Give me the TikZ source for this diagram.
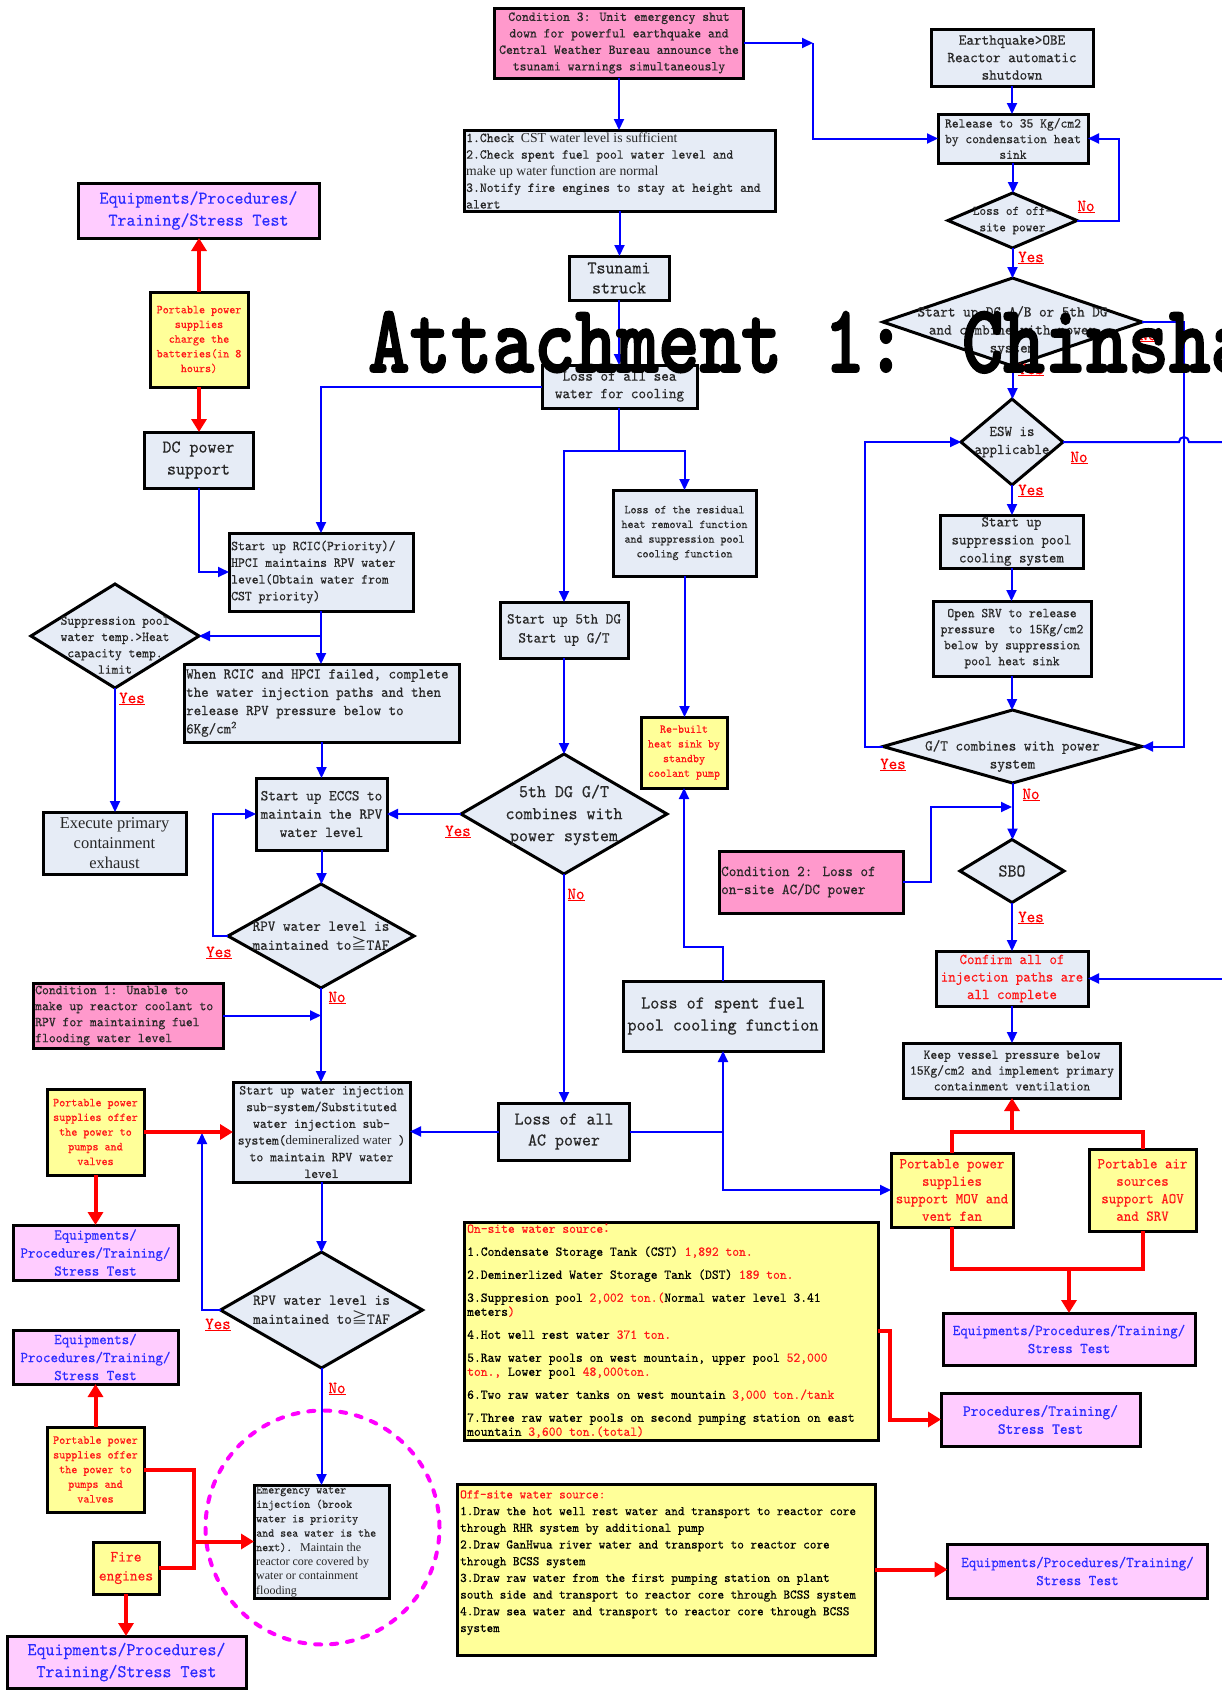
\documentclass[tikz,border=0pt]{standalone}
\usepackage{fontspec}
\setmainfont{lmmono10-regular}[Extension=.otf,FakeStretch=0.952,FakeBold=0.35]
\newfontfamily\prop{Liberation Serif}
\newfontfamily\cjk{Noto Sans CJK SC}
\newfontfamily\titlefont{lmmonolt10-bold}[Extension=.otf,FakeBold=2]
\usetikzlibrary{arrows.meta,shapes.geometric}

\definecolor{boxfill}{RGB}{230,236,246}
\definecolor{pinkfill}{RGB}{255,153,204}
\definecolor{yelfill}{RGB}{255,255,153}
\definecolor{lavfill}{RGB}{255,204,255}
\definecolor{flowblue}{RGB}{0,0,255}
\definecolor{flowred}{RGB}{255,0,0}
\definecolor{txtgray}{RGB}{40,40,40}
\definecolor{lblblue}{RGB}{45,45,255}
\definecolor{txtred}{RGB}{255,25,25}
\definecolor{ringmag}{RGB}{255,0,255}

\newcommand\fsz[2]{\fontsize{#1}{#2}\selectfont}

\begin{document}
\begin{tikzpicture}[x=1pt,y=-1pt,
  frame/.style={draw=black,line width=3pt,inner sep=0pt,outer sep=0pt},
  gbox/.style={frame,rectangle,fill=boxfill},
  pbox/.style={frame,rectangle,fill=pinkfill},
  ybox/.style={frame,rectangle,fill=yelfill},
  lbox/.style={frame,rectangle,fill=lavfill},
  gdia/.style={frame,diamond,fill=boxfill},
  txt/.style={inner sep=0pt,align=center,text=txtgray},
  txtl/.style={inner sep=0pt,align=left,text=txtgray},
  rtxt/.style={txt,text=txtred},
  btxt/.style={txt,text=lblblue},
  fl/.style={draw=flowblue,line width=2pt},
  fla/.style={fl,-{Triangle[length=11pt,width=10pt]}},
  rl/.style={draw=flowred,line width=4pt},
  rla/.style={rl,-{Triangle[length=13pt,width=15pt]}},
  yn/.style={text=flowred,inner sep=0pt,font=\fsz{17}{20}}]

\useasboundingbox (0,0) rectangle (1222,1690);
\clip (0,0) rectangle (1222,1690);
\fill[white] (0,0) rectangle (1222,1690);

% ---------------- centre column
\node[pbox,minimum width=249pt,minimum height=70pt] (cond3) at (619,43) {};
\node[txt,font=\fsz{13.7}{16.5}] (cond3-t) at (cond3) {Condition 3: Unit emergency shut\\down for powerful earthquake and\\Central Weather Bureau announce the\\tsunami warnings simultaneously};

\node[gbox,minimum width=311pt,minimum height=81pt] (check) at (619.5,170.5) {};
\node[txtl,anchor=west,font=\fsz{13.7}{16.6}] (check-t) at ([xshift=2pt]check.west) {1.Check {\prop CST water level is sufficient}\\2.Check spent fuel pool water level and\\{\prop make up water function are normal}\\3.Notify fire engines to stay at height and\\alert};

\node[gbox,minimum width=100pt,minimum height=44pt] (tsunami) at (619,278) {};
\node[txt,font=\fsz{18}{20}] (tsunami-t) at (tsunami) {Tsunami\\struck};

\node[gbox,minimum width=155pt,minimum height=43pt] (losssea) at (619.5,386.5) {};
\node[txt,font=\fsz{15.2}{17.5}] (losssea-t) at (losssea) {Loss of all sea\\water for cooling};

\node[gbox,minimum width=128pt,minimum height=56pt] (dg5) at (564,630) {};
\node[txt,font=\fsz{15.2}{19}] (dg5-t) at (dg5) {Start up 5th DG\\Start up G/T};

\node[gbox,minimum width=143pt,minimum height=86pt] (resid) at (684.5,533) {};
\node[txt,font=\fsz{12}{14.7}] (resid-t) at (resid) {Loss of the residual\\heat removal function\\and suppression pool\\cooling function};

\node[gdia,minimum width=206pt,minimum height=120pt] (dgdia) at (564,814) {};
\node[txt,font=\fsz{18}{22}] (dgdia-t) at (564,815) {5th DG G/T\\combines with\\power system};

\node[ybox,minimum width=86pt,minimum height=71pt] (rebuilt) at (684,752.5) {};
\node[rtxt,font=\fsz{12}{14.7}] (rebuilt-t) at (rebuilt) {Re-built\\heat sink by\\standby\\coolant pump};

\node[gbox,minimum width=131pt,minimum height=57pt] (lossac) at (564,1131.5) {};
\node[txt,font=\fsz{18}{21}] (lossac-t) at (lossac) {Loss of all\\AC power};

\node[gbox,minimum width=200pt,minimum height=70pt] (spent) at (723,1016) {};
\node[txt,font=\fsz{18.2}{22}] (spent-t) at (spent) {Loss of spent fuel\\pool cooling function};

\node[pbox,minimum width=184pt,minimum height=62pt] (cond2) at (811,882) {};
\node[txtl,anchor=west,font=\fsz{15.2}{18}] (cond2-t) at ([xshift=2pt]cond2.west) {Condition 2: Loss of\\on-site AC/DC power};

\node[ybox,minimum width=414pt,minimum height=218pt] (onsite) at (671,1331) {};
\node[txtl,anchor=north west,text=black,font=\fsz{13.6}{14}] (onsite-t) at (467,1224) {%
{\color{txtred}On-site water source{\cjk ：}}\\[9pt]
1.Condensate Storage Tank (CST) {\color{txtred}1,892 ton.}\\[9pt]
2.Deminerlized Water Storage Tank (DST) {\color{txtred}189 ton.}\\[9pt]
3.Suppresion pool {\color{txtred}2,002 ton.(}Normal water level 3.41\\
meters{\color{txtred})}\\[9pt]
4.Hot well rest water {\color{txtred}371 ton.}\\[9pt]
5.Raw water pools on west mountain, upper pool {\color{txtred}52,000}\\
{\color{txtred}ton.,} Lower pool {\color{txtred}48,000ton.}\\[9pt]
6.Two raw water tanks on west mountain {\color{txtred}3,000 ton./tank}\\[9pt]
7.Three raw water pools on second pumping station on east\\
mountain {\color{txtred}3,600 ton.(total)}};

\node[ybox,minimum width=418pt,minimum height=171pt] (offw) at (666,1569.5) {};
\node[txtl,anchor=north west,text=black,font=\fsz{13.2}{16.7}] (offw-t) at (460,1490) {%
{\color{txtred}Off-site water source:}\\
1.Draw the hot well rest water and transport to reactor core\\
through RHR system by additional pump\\
2.Draw GanHwua river water and transport to reactor core\\
through BCSS system\\
3.Draw raw water from the first pumping station on plant\\
south side and transport to reactor core through BCSS system\\
4.Draw sea water and transport to reactor core through BCSS\\
system};

% ---------------- left column
\node[lbox,minimum width=241pt,minimum height=55pt] (eqTL) at (198.5,210.5) {};
\node[btxt,font=\fsz{18}{22}] (eqTL-t) at (eqTL) {Equipments/Procedures/\\Training/Stress Test};

\node[ybox,minimum width=98pt,minimum height=95pt] (pcharge) at (199,339.5) {};
\node[rtxt,font=\fsz{12.1}{14.7}] (pcharge-t) at (pcharge) {Portable power\\supplies\\charge the\\batteries(in 8\\hours)};

\node[gbox,minimum width=109pt,minimum height=56pt] (dc) at (198.5,460) {};
\node[txt,font=\fsz{18}{22}] (dc-t) at (dc) {DC power\\support};

\node[gbox,minimum width=184pt,minimum height=78pt] (rcic) at (321,572) {};
\node[txtl,anchor=west,font=\fsz{13.7}{16.7}] (rcic-t) at ([xshift=2pt]rcic.west) {Start up RCIC(Priority)/\\HPCI maintains RPV water\\level(Obtain water from\\CST priority)};

\node[gdia,minimum width=168pt,minimum height=104pt] (supdia) at (115,636) {};
\node[txt,font=\fsz{13.6}{16.3}] (supdia-t) at (115,645) {Suppression pool\\water temp.>Heat\\capacity temp.\\limit};

\node[gbox,minimum width=143pt,minimum height=62pt] (execute) at (114.5,843) {};
\node[txt,font=\prop\fsz{16.5}{20}] (execute-t) at (execute) {Execute primary\\containment\\exhaust};

\node[gbox,minimum width=275pt,minimum height=78pt] (when) at (321.5,703) {};
\node[txtl,anchor=west,font=\fsz{15}{18.3}] (when-t) at ([xshift=2pt]when.west) {When RCIC and HPCI failed, complete\\the water injection paths and then\\release RPV pressure below to\\6Kg/cm\textsuperscript{2}};

\node[gbox,minimum width=131pt,minimum height=72pt] (eccs) at (321.5,814) {};
\node[txt,font=\fsz{15.2}{18.3}] (eccs-t) at (eccs) {Start up ECCS to\\maintain the RPV\\water level};

\node[gdia,minimum width=186pt,minimum height=104pt] (rpv1) at (321,936) {};
\node[txt,font=\fsz{15.2}{19}] (rpv1-t) at (rpv1) {RPV water level is\\maintained to{\cjk ≧}TAF};

\node[pbox,minimum width=190pt,minimum height=65pt] (cond1) at (128,1015.5) {};
\node[txtl,anchor=west,font=\fsz{13.7}{16}] (cond1-t) at ([xshift=2pt]cond1.west) {Condition 1: Unable to\\make up reactor coolant to\\RPV for maintaining fuel\\flooding water level};

\node[gbox,minimum width=177pt,minimum height=100pt] (winj) at (321.5,1132) {};
\node[txt,font=\fsz{13.7}{16.7}] (winj-t) at (winj) {Start up water injection\\sub-system/Substituted\\water injection sub-\\system({\prop\fontsize{13}{16.7}\selectfont demineralized water} )\\to maintain RPV water\\level};

\node[ybox,minimum width=97pt,minimum height=86pt] (poff1) at (95.5,1132) {};
\node[rtxt,font=\fsz{12.1}{14.7}] (poff1-t) at (poff1) {Portable power\\supplies offer\\the power to\\pumps and\\valves};

\node[lbox,minimum width=165pt,minimum height=55pt] (eqL1) at (95.5,1252.5) {};
\node[btxt,font=\fsz{15}{18}] (eqL1-t) at (eqL1) {Equipments/\\Procedures/Training/\\Stress Test};

\node[gdia,minimum width=202pt,minimum height=116pt] (rpv2) at (321.5,1310) {};
\node[txt,font=\fsz{15.2}{19}] (rpv2-t) at (rpv2) {RPV water level is\\maintained to{\cjk ≧}TAF};

\node[lbox,minimum width=165pt,minimum height=54pt] (eqL2) at (95.5,1357) {};
\node[btxt,font=\fsz{15}{18}] (eqL2-t) at (eqL2) {Equipments/\\Procedures/Training/\\Stress Test};

\node[ybox,minimum width=97pt,minimum height=85pt] (poff2) at (95.5,1469.5) {};
\node[rtxt,font=\fsz{12.1}{14.7}] (poff2-t) at (poff2) {Portable power\\supplies offer\\the power to\\pumps and\\valves};

\node[ybox,minimum width=66pt,minimum height=52pt] (fire) at (126,1568) {};
\node[rtxt,font=\fsz{15.5}{19}] (fire-t) at (fire) {Fire\\engines};

\node[lbox,minimum width=239pt,minimum height=52pt] (eqL3) at (126.5,1662) {};
\node[btxt,font=\fsz{18}{22}] (eqL3-t) at (eqL3) {Equipments/Procedures/\\Training/Stress Test};

\node[gbox,minimum width=135pt,minimum height=113pt] (emerg) at (321.5,1541.5) {};
\node[txtl,anchor=west,font=\fsz{12}{14.4}] (emerg-t) at ([xshift=2pt]emerg.west) {Emergency water\\injection (brook\\water is priority\\and sea water is the\\next). {\prop Maintain the}\\{\prop reactor core covered by}\\{\prop water or containment}\\{\prop flooding}};

\node[circle,draw=ringmag,line width=4pt,dash pattern=on 6pt off 10pt,line cap=round,minimum size=234pt,inner sep=0pt] (ring) at (322.5,1527.5) {};

% ---------------- right column
\node[gbox,minimum width=162pt,minimum height=57pt] (earthq) at (1012,57.5) {};
\node[txt,font=\fsz{15.2}{17.5}] (earthq-t) at (earthq) {Earthquake>OBE\\Reactor automatic\\shutdown};

\node[gbox,minimum width=150pt,minimum height=49pt] (release) at (1013,138.5) {};
\node[txt,font=\fsz{13.6}{15.6}] (release-t) at (release) {Release to 35 Kg/cm2\\by condensation heat\\sink};

\node[gdia,minimum width=129pt,minimum height=55pt] (offdia) at (1012.5,220.5) {};
\node[txt,font=\fsz{13.2}{16.5}] (offdia-t) at (offdia) {Loss of off-\\site power};

\node[gdia,minimum width=259pt,minimum height=88pt] (dgA) at (1012.5,322) {};
\node[txt,font=\fsz{15.2}{18}] (dgA-t) at (1012.5,331) {Start up DG A/B or 5th DG\\and combine with power\\system};

\node[gdia,minimum width=102pt,minimum height=86pt] (esw) at (1012,442) {};
\node[txt,font=\fsz{15}{18}] (esw-t) at (esw) {ESW is\\applicable};

\node[gbox,minimum width=143pt,minimum height=53pt] (supcool) at (1011.5,541.5) {};
\node[txt,font=\fsz{15}{18}] (supcool-t) at (supcool) {Start up\\suppression pool\\cooling system};

\node[gbox,minimum width=158pt,minimum height=75pt] (srv) at (1012,638.5) {};
\node[txt,font=\fsz{13.6}{16}] (srv-t) at (srv) {Open SRV to release\\pressure\ \ to 15Kg/cm2\\below by suppression\\pool heat sink};

\node[gdia,minimum width=259pt,minimum height=73pt] (gt) at (1012.5,746.5) {};
\node[txt,font=\fsz{15.2}{18}] (gt-t) at (1012.5,756) {G/T combines with power\\system};

\node[gdia,minimum width=104pt,minimum height=63pt] (sbo) at (1012,871) {};
\node[txt,font=\fsz{18}{20}] (sbo-t) at (sbo) {SBO};

\node[gbox,minimum width=152pt,minimum height=55pt] (confirm) at (1012,978.5) {};
\node[rtxt,font=\fsz{15}{17.5}] (confirm-t) at (confirm) {Confirm all of\\injection paths are\\all complete};

\node[gbox,minimum width=217pt,minimum height=55pt] (keep) at (1012,1070.5) {};
\node[txt,font=\fsz{13.6}{15.8}] (keep-t) at (keep) {Keep vessel pressure below\\15Kg/cm2 and implement primary\\containment ventilation};

\node[ybox,minimum width=122pt,minimum height=74pt] (mov) at (952,1190) {};
\node[rtxt,font=\fsz{15}{17.5}] (mov-t) at (mov) {Portable power\\supplies\\support MOV and\\vent fan};

\node[ybox,minimum width=107pt,minimum height=82pt] (air) at (1142.5,1190) {};
\node[rtxt,font=\fsz{15}{17.5}] (air-t) at (air) {Portable air\\sources\\support AOV\\and SRV};

\node[lbox,minimum width=252pt,minimum height=52pt] (eqR1) at (1069,1339) {};
\node[btxt,font=\fsz{15}{18}] (eqR1-t) at (eqR1) {Equipments/Procedures/Training/\\Stress Test};

\node[lbox,minimum width=199pt,minimum height=53pt] (procs) at (1040.5,1419.5) {};
\node[btxt,font=\fsz{15.5}{18}] (procs-t) at (procs) {Procedures/Training/\\Stress Test};

\node[lbox,minimum width=260pt,minimum height=54pt] (eqR2) at (1077.5,1571) {};
\node[btxt,font=\fsz{15}{18}] (eqR2-t) at (eqR2) {Equipments/Procedures/Training/\\Stress Test};

% ---------------- junction points and free ends
\coordinate (c3turn) at (813,43);
\coordinate (split) at (619,451);
\coordinate (rcicfork) at (321,636);
\coordinate (c1join) at (321,1015.5);
\coordinate (rpv2up) at (202,1133);
\coordinate (rj1) at (194,1469.5);
\coordinate (rj2) at (194,1568);
\coordinate (rj3) at (194,1541.5);
\coordinate (acfork) at (723,1131.5);
\coordinate (c2join) at (1012,807);
\coordinate (eswout) at (1235,442);
\coordinate (confin) at (1235,978.5);
\coordinate (kj) at (1012,1132);
\coordinate (bj) at (1069,1269);

% ---------------- blue connectors
\draw[fla] (cond3.south) -- (cond3.south |- check.north);
\draw[fla] (cond3.east) -- (c3turn);
\draw[fla] (c3turn) |- (release.west);
\draw[fla] (check.south) -- (check.south |- tsunami.north);
\draw[fla] (tsunami.south) -- (tsunami.south |- losssea.north);
\draw[fl] (split |- losssea.south) -- (split);
\draw[fla] (split) -| (dg5.north);
\draw[fla] (split) -| (resid.north);
\draw[fla] (losssea.west) -| (rcic.north);
\draw[fla] (dc.south) |- (rcic.west);
\draw[fla] (rcic.south) -- (rcic.south |- when.north);
\draw[fla] (rcicfork) -- (supdia.east);
\draw[fla] (supdia.south) -- (supdia.south |- execute.north);
\draw[fla] (when.south) -- (when.south |- eccs.north);
\draw[fla] (eccs.south) -- (eccs.south |- rpv1.north);
\draw[fla] (rpv1.west) -- ++(-15,0) |- (eccs.west);
\draw[fla] (dgdia.west) -- (eccs.east);
\draw[fla] (rpv1.south) -- (rpv1.south |- winj.north);
\draw[fla] (cond1.east) -- (c1join);
\draw[fla] (lossac.west) -- (lossac.west -| winj.east);
\draw[fla] (winj.south) -- (winj.south |- rpv2.north);
\draw[fla] (rpv2.west) -- (rpv2.west -| rpv2up) -- (rpv2up);
\draw[fla] (rpv2.south) -- (rpv2.south |- emerg.north);
\draw[fla] (dg5.south) -- (dg5.south |- dgdia.north);
\draw[fla] (dgdia.south) -- (dgdia.south |- lossac.north);
\draw[fla] (resid.south) -- (resid.south |- rebuilt.north);
\draw[fl] (lossac.east) -- (acfork);
\draw[fla] (acfork) -- (spent.south);
\draw[fla] (acfork) |- (mov.west);
\draw[fla] (spent.north) -- ++(0,-34) -| (rebuilt.south);
\draw[fla] (earthq.south) -- (earthq.south |- release.north);
\draw[fla] (release.south) -- (release.south |- offdia.north);
\draw[fla] (offdia.east) -- ++(42,0) |- (release.east);
\draw[fla] (offdia.south) -- (offdia.south |- dgA.north);
\draw[fla] (dgA.east) -- ++(42,0) |- (gt.east);
\draw[fla] (dgA.south) -- (dgA.south |- esw.north);
\draw[fla] (esw.south) -- (esw.south |- supcool.north);
\draw[fla] (supcool.south) -- (supcool.south |- srv.north);
\draw[fla] (srv.south) -- (srv.south |- gt.north);
\draw[fla] (gt.west) -- ++(-18,0) |- (esw.west);
\draw[fl] (esw.east) -- (1179,442) arc[start angle=180,end angle=360,radius=5] -- (eswout);
\draw[fla] (gt.south) -- (gt.south |- sbo.north);
\draw[fla] (cond2.east) -- ++(28,0) |- (c2join);
\draw[fla] (sbo.south) -- (sbo.south |- confirm.north);
\draw[fla] (confin) -- (confirm.east);
\draw[fla] (confirm.south) -- (confirm.south |- keep.north);

% ---------------- red connectors
\draw[rla] (pcharge.north) -- (pcharge.north |- eqTL.south);
\draw[rla] (pcharge.south) -- (pcharge.south |- dc.north);
\draw[rla] (poff1.east) -- (winj.west);
\draw[rla] (poff1.south) -- (poff1.south |- eqL1.north);
\draw[rla] (poff2.north) -- (poff2.north |- eqL2.south);
\draw[rl] (poff2.east) -- (rj1) -- (rj2) -- (fire.east);
\draw[rla] (rj3) -- (emerg.west);
\draw[rla] (fire.south) -- (fire.south |- eqL3.north);
\draw[rl] (mov.north) -- ++(0,-21) -| (air.north);
\draw[rla] (kj) -- (keep.south);
\draw[rl] (mov.south) -- ++(0,42) -| (air.south);
\draw[rla] (bj) -- (eqR1.north);
\draw[rla] (onsite.east) -- ++(12,0) |- (procs.west);
\draw[rla] (offw.east) -- (offw.east -| eqR2.west);

% ---------------- branch labels
\node[yn] (n1) at (1086,207) {\underline{No}};
\node[yn] (y1) at (1031,258) {\underline{Yes}};
\node[yn] (n2) at (1148,336) {\underline{No}};
\node[yn] (y2) at (1031,370) {\underline{Yes}};
\node[yn] (n3) at (1079,458) {\underline{No}};
\node[yn] (y3) at (1031,491) {\underline{Yes}};
\node[yn] (y4) at (893,765) {\underline{Yes}};
\node[yn] (n4) at (1031,795) {\underline{No}};
\node[yn] (y5) at (1031,918) {\underline{Yes}};
\node[yn] (y6) at (132,699) {\underline{Yes}};
\node[yn] (y7) at (458,832) {\underline{Yes}};
\node[yn] (n7) at (576,895) {\underline{No}};
\node[yn] (y8) at (219,953) {\underline{Yes}};
\node[yn] (n8) at (337,998) {\underline{No}};
\node[yn] (y9) at (218,1325) {\underline{Yes}};
\node[yn] (n9) at (337,1389) {\underline{No}};

% ---------------- heading over everything
\node[anchor=base west,inner sep=0pt,font=\titlefont\fsz{78.9}{80}] (title) at (368,372) {\scalebox{1}[1.23]{Attachment 1: Chinsha}};
\end{tikzpicture}
\end{document}
